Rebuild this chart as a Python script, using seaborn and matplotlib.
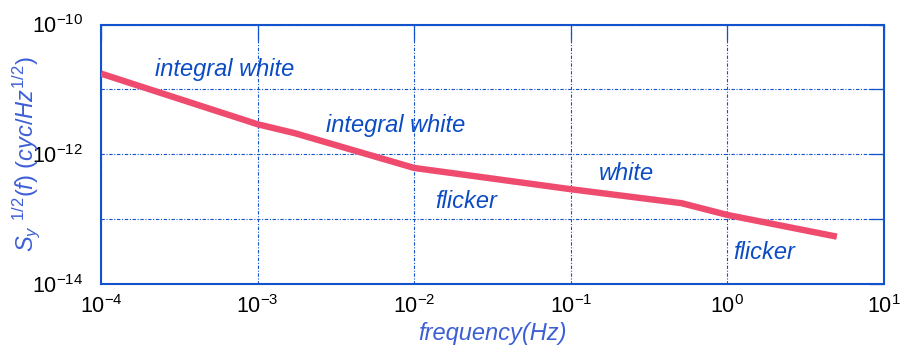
import numpy as np
import pandas as pd
import matplotlib
matplotlib.use("Agg")
import matplotlib.pyplot as plt
import seaborn as sns

# Square-root spectral density of fractional frequency
freq_hz = [1e-4, 1e-3, 1.73e-3, 1e-2, 1e-1, 0.51, 1.0, 5.0]
sy_half = [1.75e-11, 2.9e-12, 2.11e-12, 6.15e-13, 2.89e-13, 1.76e-13, 1.16e-13, 5.37e-14]

# Noise-type annotations: text, anchor frequency, anchor level
note_text = ["integral white", "integral white", "flicker", "white", "flicker"]
note_freq = [2.2e-4, 2.72e-3, 1.36e-2, 0.15, 1.09]
note_level = [2.0e-11, 2.8e-12, 1.86e-13, 5.1e-13, 3.1e-14]

x_ticks = [1e-4, 1e-3, 1e-2, 1e-1, 1e0, 1e1]
x_tick_labels = [r"$\mathdefault{10^{-4}}$", r"$\mathdefault{10^{-3}}$", r"$\mathdefault{10^{-2}}$",
                 r"$\mathdefault{10^{-1}}$", r"$\mathdefault{10^{0}}$", r"$\mathdefault{10^{1}}$"]
y_ticks = [1e-14, 1e-13, 1e-12, 1e-11, 1e-10]
y_tick_labels = [r"$\mathdefault{10^{-14}}$", "", r"$\mathdefault{10^{-12}}$", "", r"$\mathdefault{10^{-10}}$"]

BLUE = "#1252cc"
TEXT_BLUE = "#0b4cc4"
LABEL_BLUE = "#3d5fd6"
CURVE = "#ef4b6e"

sns.set_style("white")
plt.rcParams["font.family"] = ["Liberation Sans", "DejaVu Sans"]
plt.rcParams["axes.unicode_minus"] = False
plt.rcParams["mathtext.fontset"] = "custom"
plt.rcParams["mathtext.it"] = "Liberation Sans:italic"
plt.rcParams["mathtext.rm"] = "Liberation Sans"

df = pd.DataFrame({"f": freq_hz, "S": sy_half})

fig = plt.figure(figsize=(9.02, 3.47), dpi=100)
ax = fig.add_axes([101 / 902, 1 - 284 / 347, (884 - 101) / 902, (284 - 24.5) / 347])

sns.lineplot(data=df, x="f", y="S", ax=ax, color=CURVE, linewidth=4.6,
             solid_capstyle="butt", solid_joinstyle="round", zorder=3)

ax.set_xscale("log")
ax.set_yscale("log")
ax.set_xlim(1e-4, 1e1)
ax.set_ylim(1e-14, 1e-10)

ax.set_xticks(x_ticks)
ax.set_xticklabels(x_tick_labels)
ax.set_yticks(y_ticks)
ax.set_yticklabels(y_tick_labels)
ax.minorticks_off()

ax.grid(True, which="major", color=BLUE, linestyle=(0, (3, 1.5, 1, 1.5)), linewidth=0.8)
ax.set_axisbelow(True)
for side in ax.spines.values():
    side.set_color(BLUE)
    side.set_linewidth(1.5)

ax.tick_params(axis="both", which="major", direction="in", length=11, width=0.9,
               color=BLUE, top=True, right=True, labelsize=15.5, labelcolor="black")
ax.tick_params(axis="x", pad=8)
ax.tick_params(axis="y", pad=13)

for txt, fx, ly in zip(note_text, note_freq, note_level):
    ax.text(fx, ly, txt, fontsize=17, style="italic", color=TEXT_BLUE,
            ha="left", va="center", zorder=4)

ax.set_xlabel("frequency(Hz)", fontsize=17, style="italic", color=LABEL_BLUE, labelpad=3)
ax.set_ylabel(r"$\mathit{S_y\ {}^{1/2}(f)\ (cyc/Hz^{1/2})}$", fontsize=17,
              color=LABEL_BLUE)
ax.yaxis.set_label_coords(-0.075, 0.5)

fig.savefig("out.png", dpi=100)
